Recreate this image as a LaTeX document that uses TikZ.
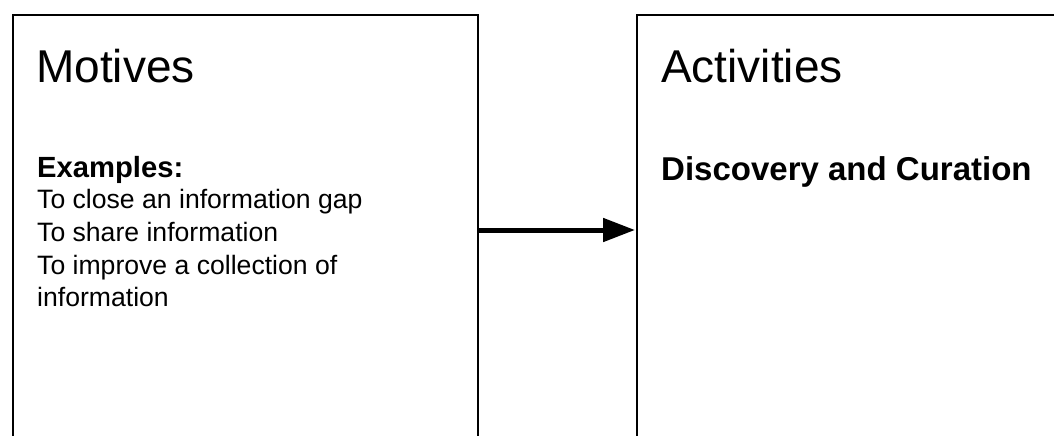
\documentclass[tikz,border=0pt]{standalone}
\usepackage{fontspec}
\setmainfont{Liberation Sans}
\usetikzlibrary{arrows.meta}
\tikzset{
  box/.style={draw=black, line width=2pt, inner sep=0pt, anchor=north west},
  title/.style={font=\fontsize{46}{52}\selectfont, anchor=base west, inner sep=0pt},
  head/.style={font=\fontsize{29.2}{33}\selectfont\bfseries, anchor=base west, inner sep=0pt},
  big/.style={font=\fontsize{33}{38}\selectfont\bfseries, anchor=base west, inner sep=0pt},
  body/.style={font=\fontsize{26.6}{32.5}\selectfont, anchor=base west, inner sep=0pt, align=left},
  link/.style={line width=5pt, -{Triangle[length=32pt,width=23pt]}, shorten >=1pt}
}
\begin{document}
\begin{tikzpicture}[x=1pt,y=-1pt]
\useasboundingbox (0,0) rectangle (1054,436);
\clip (0,0) rectangle (1054,436);
\node[box, minimum width=465pt, minimum height=430pt] (motives) at (12,14) {};
\node[box, minimum width=440pt, minimum height=430pt] (activities) at (636,14) {};
\node[title] (mt) at (36,82) {Motives};
\node[title] (at) at (661,82) {Activities};
\node[head] (ex) at (37,177) {Examples:};
\node[body] (l1) at (37,208) {To close an information gap};
\node[body] (l2) at (37,241) {To share information};
\node[body] (l3) at (37,274) {To improve a collection of};
\node[body] (l4) at (37,306) {information};
\node[big] (dc) at (661,180) {Discovery and Curation};
\draw[link] (motives.east) -- (activities.west);
\end{tikzpicture}
\end{document}
